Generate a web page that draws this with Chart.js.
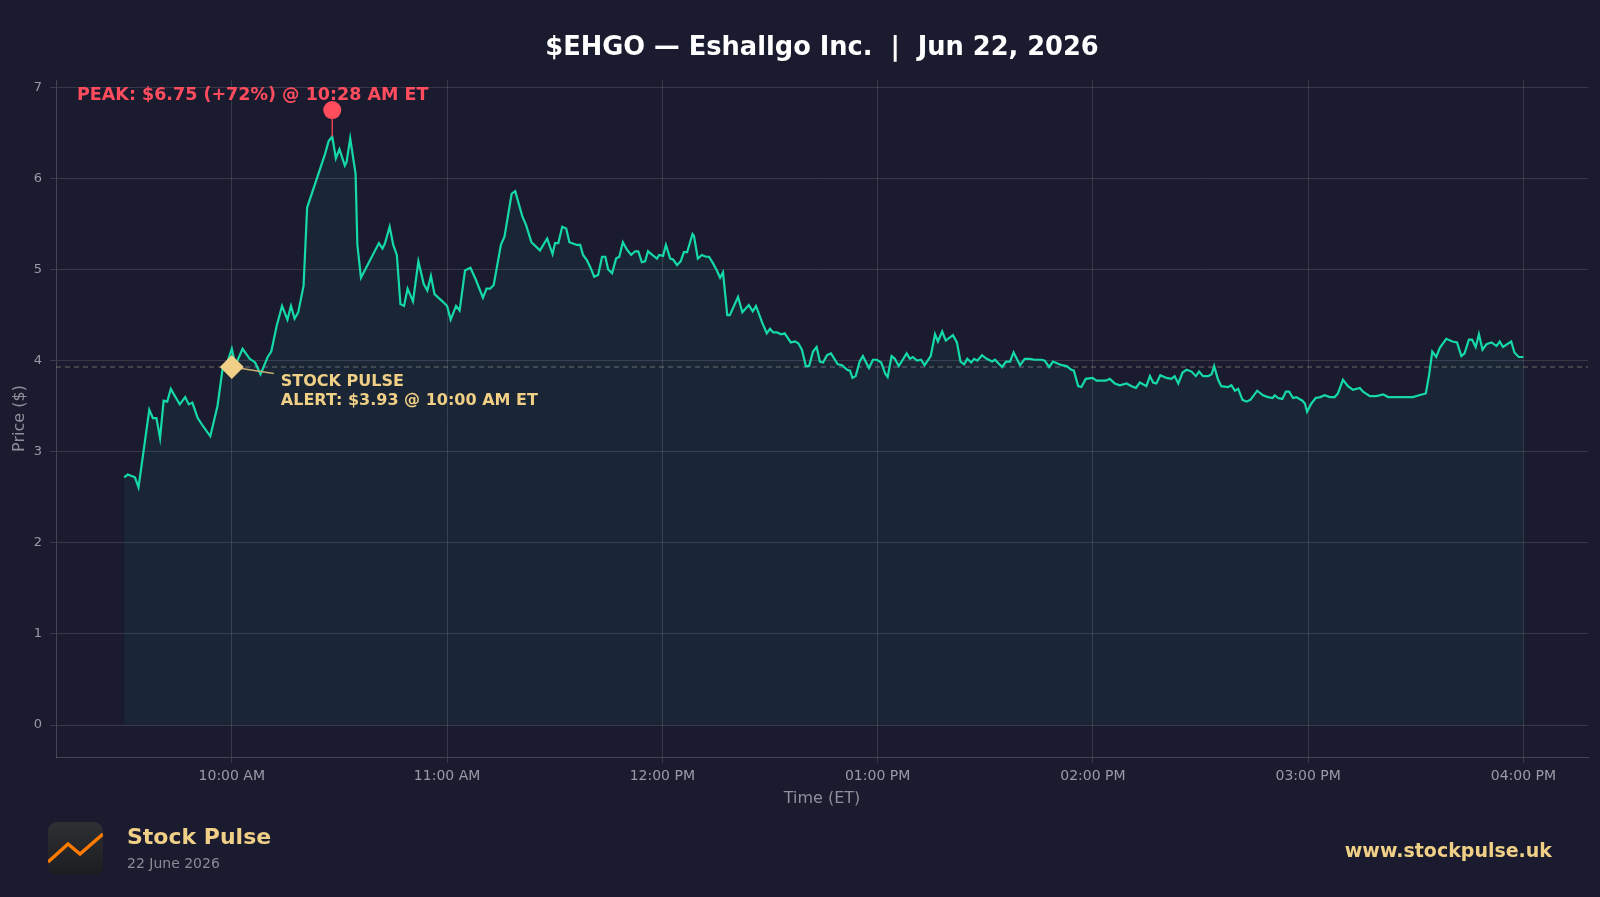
<!DOCTYPE html>
<html>
<head>
<meta charset="utf-8">
<script src="https://cdn.jsdelivr.net/npm/chart.js@4.4.1/dist/chart.umd.min.js"></script>
<style>
  html, body { margin: 0; padding: 0; background: #1b1b2f; }
  #wrap { position: relative; width: 1600px; height: 897px; overflow: hidden; font-family: "DejaVu Sans", sans-serif; }
  #title { position: absolute; top: 31px; left: 22px; width: 1600px; text-align: center; color: #fff; font-weight: bold; font-size: 25.7px; }
  #logo { position: absolute; left: 48px; top: 822px; width: 55px; height: 53px; border-radius: 9px; background: linear-gradient(#2e3033, #1c1d20); overflow: hidden; }
  #brand { position: absolute; left: 127px; top: 824px; color: #f0cf86; font-weight: bold; font-size: 22px; }
  #date { position: absolute; left: 127px; top: 855px; color: #8a8a96; font-size: 14px; }
  #url { position: absolute; right: 48px; top: 839px; color: #f0cf86; font-weight: bold; font-size: 19px; }
</style>
</head>
<body>
<div id="wrap">
  <div id="title">$EHGO — Eshallgo Inc.&nbsp; |&nbsp; Jun 22, 2026</div>
  <canvas id="chart" width="1600" height="897"></canvas>
  <div id="logo"><svg width="55" height="53"><polyline points="0,40 20,22 32,32 55,12" fill="none" stroke="#ff7a00" stroke-width="3.5"/></svg></div>
  <div id="brand">Stock Pulse</div>
  <div id="date">22 June 2026</div>
  <div id="url">www.stockpulse.uk</div>
</div>
<script>
// minutes after 09:30 ET
const minutes = [0,1,3,4,7,8,9,10,11,12,13,14,15.5,17,18,19,20.5,22,24,26,27.5,28.5,30,31,33,35,36.5,38,40,41,42.5,44,45.5,46.5,47.5,48.5,50,51,56,57,58,59,60,61.5,62,63,64.5,65,66,71,72,72.7,74,75,76,77,78,79,80.5,82,83.5,84.5,85.5,86.5,89,90,91,92.5,93.5,95,96.5,98,100,101,102,103,105,106,108,109,111,112,113.5,
  115.9,117.9,119.4,120.1,121,122.1,123.2,124.1,126.2,127.1,127.9,129,130.1,131,132.1,133.2,134.1,134.9,136,137.1,138,139,140.1,141.3,142.4,143.3,144.3,145.2,146,147.2,148.5,149.1,150.2,151,152.2,153,154.1,155.1,156,156.9,158.4,158.8,159.9,161,162.2,163,164.1,165.2,166.1,166.9,168.1,168.8,171.1,172.3,174.1,175.2,176.1,177.8,179.1,180,180.9,182,183.1,184.1,185.8,187,187.9,188.9,190,190.9,192,193,193.9,194.8,195.9,197,198.9,200.1,201.5,202.3,203,203.9,205,205.9,206.8,207.6,208.7,209.8,211,212.1,212.8,213.9,214.8,215.9,218.1,219,219.8,221,222.1,223.1,224.8,226,226.8,228,229,231,232.1,233.1,234.1,235,236.1,236.9,237.8,239.1,240.4,241.9,242.7,244.7,245.8,246.9,247.9,
  249.7,251,252.4,253.8,255.7,256.6,257.8,258.9,261.3,262.7,264,264.7,265.9,266.8,268,269.9,271,273.6,274.7,276.1,277.5,279.4,280.8,282,283.1,284.9,285.9,286.8,287.7,288.8,290.5,291.9,292.8,293.8,295,296.1,297.5,298.7,299.6,300.7,302.1,303.1,303.8,304.9,305.8,307.7,308.6,309.6,310.5,311.7,312.8,313.9,315.8,317.4,318.8,320.1,320.7,321.6,322.8,323.8,324.7,325.8,326.7,328.4,329.1,329.7,330.9,332.1,333.4,334.6,336,337.4,338.3,339.7,341.1,342.5,344.4,345.3,347.2,349,350.9,352.3,353.7,355.5,357.4,359.2,360.9,362.8,363.7,364.6,365.7,366.7,368.5,370.2,371.5,372.7,373.6,374.8,375.7,376.7,377.6,378.6,379.7,381.1,382.5,383.4,384.3,386.6,387.5,388.7,390];
const prices = [2.72,2.75,2.72,2.61,3.46,3.37,3.37,3.15,3.56,3.55,3.69,3.62,3.52,3.60,3.52,3.54,3.37,3.28,3.17,3.50,3.93,3.95,4.13,3.95,4.13,4.02,3.98,3.85,4.04,4.10,4.38,4.60,4.45,4.60,4.46,4.53,4.82,5.68,6.27,6.41,6.46,6.22,6.32,6.14,6.18,6.44,6.05,5.27,4.91,5.29,5.23,5.29,5.47,5.27,5.16,4.62,4.60,4.79,4.65,5.09,4.84,4.77,4.93,4.73,4.64,4.60,4.45,4.60,4.55,4.99,5.02,4.89,4.69,4.79,4.79,4.83,5.27,5.36,5.83,5.86,5.58,5.49,5.30,
  5.21,5.34,5.17,5.29,5.29,5.47,5.45,5.30,5.27,5.27,5.16,5.10,5.01,4.92,4.94,5.14,5.14,5.00,4.96,5.12,5.14,5.30,5.22,5.16,5.20,5.20,5.08,5.09,5.20,5.16,5.12,5.16,5.15,5.27,5.12,5.11,5.05,5.09,5.19,5.19,5.39,5.37,5.12,5.16,5.14,5.14,5.07,4.99,4.91,4.97,4.50,4.50,4.70,4.53,4.61,4.54,4.60,4.42,4.30,4.35,4.31,4.31,4.29,4.30,4.20,4.21,4.19,4.12,3.94,3.94,4.10,4.15,3.99,3.98,4.06,4.08,3.96,3.95,3.90,3.89,3.81,3.83,3.99,4.05,3.98,3.92,4.01,4.01,3.98,3.86,3.82,4.05,4.02,3.94,4.08,4.02,4.04,4.00,4.01,3.95,4.05,4.29,4.21,4.32,4.22,4.28,4.20,3.99,3.96,4.02,3.98,4.02,4.00,4.06,4.02,3.99,4.01,3.93,3.99,3.99,4.09,
  3.95,4.02,4.02,4.01,4.01,4.00,3.93,3.99,3.95,3.94,3.90,3.89,3.72,3.71,3.80,3.81,3.78,3.78,3.80,3.75,3.73,3.75,3.72,3.70,3.76,3.72,3.83,3.76,3.75,3.84,3.81,3.80,3.83,3.75,3.87,3.90,3.88,3.83,3.88,3.83,3.83,3.85,3.94,3.79,3.72,3.71,3.73,3.67,3.69,3.57,3.55,3.57,3.67,3.62,3.60,3.59,3.62,3.59,3.58,3.66,3.66,3.59,3.60,3.56,3.53,3.44,3.53,3.59,3.60,3.62,3.60,3.60,3.64,3.79,3.72,3.68,3.70,3.66,3.61,3.61,3.63,3.60,3.60,3.60,3.60,3.60,3.62,3.64,3.84,4.10,4.04,4.14,4.24,4.21,4.20,4.05,4.08,4.23,4.23,4.15,4.29,4.12,4.18,4.20,4.16,4.21,4.15,4.21,4.09,4.04,4.04];
const tickMinutes = [30, 90, 150, 210, 270, 330, 390];
const tickLabels = ["10:00 AM", "11:00 AM", "12:00 PM", "01:00 PM", "02:00 PM", "03:00 PM", "04:00 PM"];
const alertMinute = 30, alertPrice = 3.93;
const peakMinute = 58, peakPrice = 6.75, peakLine = 6.46;

const priceData = minutes.map((m, i) => ({ x: m, y: prices[i] }));

const annotations = {
  id: 'annotations',
  afterDatasetsDraw(chart) {
    const { ctx, scales: { x, y } } = chart;
    ctx.save();
    ctx.textBaseline = 'middle';
    ctx.textAlign = 'left';
    ctx.font = 'bold 17.5px "DejaVu Sans"';
    ctx.fillStyle = '#ff4d5e';
    ctx.fillText('PEAK: $6.75 (+72%) @ 10:28 AM ET', 77, 95);
    ctx.font = 'bold 16px "DejaVu Sans"';
    ctx.fillStyle = '#f0cf86';
    const ax = x.getPixelForValue(alertMinute) + 49;
    const ay = y.getPixelForValue(alertPrice);
    ctx.fillText('STOCK PULSE', ax, ay + 15);
    ctx.fillText('ALERT: $3.93 @ 10:00 AM ET', ax, ay + 34);
    ctx.restore();
  }
};

new Chart(document.getElementById('chart'), {
  type: 'line',
  data: {
    datasets: [
      { data: priceData, borderColor: '#16d9a8', borderWidth: 2.2, pointRadius: 0, tension: 0,
        fill: 'origin', backgroundColor: 'rgba(22,217,168,0.06)', order: 3 },
      { data: [{ x: -19, y: alertPrice }, { x: 408, y: alertPrice }], borderColor: 'rgba(180,170,150,0.55)',
        borderWidth: 1.2, borderDash: [5, 4], pointRadius: 0, fill: false, order: 4 },
      { data: [{ x: alertMinute, y: alertPrice }, { x: 41.7, y: 3.86 }], borderColor: '#c9ad74', borderWidth: 1.5,
        pointRadius: [12, 0], pointStyle: 'rectRot', pointBackgroundColor: '#f0cf86', pointBorderWidth: 0, fill: false, order: 1 },
      { data: [{ x: peakMinute, y: peakLine }, { x: peakMinute, y: peakPrice }], borderColor: '#e0424f', borderWidth: 1.5,
        pointRadius: [0, 9], pointBackgroundColor: '#ff4d5e', pointBorderWidth: 0, fill: false, order: 0 }
    ]
  },
  options: {
    responsive: false,
    animation: false,
    layout: { padding: { top: 80, right: 11, bottom: 85, left: 0 } },
    plugins: { legend: { display: false }, tooltip: { enabled: false } },
    scales: {
      x: {
        type: 'linear', min: -19, max: 408,
        afterBuildTicks: axis => { axis.ticks = tickMinutes.map(v => ({ value: v })); },
        afterFit: axis => { axis.height = 55; },
        ticks: { color: '#9a9aa6', font: { size: 14, family: 'DejaVu Sans' }, maxRotation: 0, padding: 5,
          callback: v => tickLabels[tickMinutes.indexOf(v)] },
        grid: { color: 'rgba(255,255,255,0.13)', tickLength: 6 },
        border: { color: 'rgba(255,255,255,0.18)' },
        title: { display: true, text: 'Time (ET)', color: '#8f8f9b', font: { size: 16, family: 'DejaVu Sans' }, padding: { top: 0 } }
      },
      y: {
        min: -0.35, max: 7.08,
        afterBuildTicks: axis => { axis.ticks = [0,1,2,3,4,5,6,7].map(v => ({ value: v })); },
        afterFit: axis => { axis.width = 56; },
        ticks: { color: '#9a9aa6', font: { size: 13, family: 'DejaVu Sans' }, padding: 8 },
        grid: { color: 'rgba(255,255,255,0.13)', tickLength: 6 },
        border: { color: 'rgba(255,255,255,0.18)' },
        title: { display: true, text: 'Price ($)', color: '#8f8f9b', font: { size: 16, family: 'DejaVu Sans' }, padding: { top: 10, bottom: 0 } }
      }
    }
  },
  plugins: [annotations]
});
</script>
</body>
</html>
